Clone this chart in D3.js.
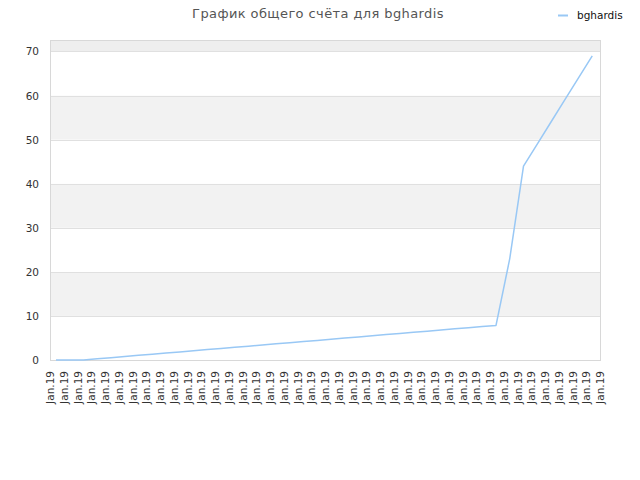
<!DOCTYPE html>
<html><head><meta charset="utf-8">
<script src="https://cdn.jsdelivr.net/npm/d3@7"></script>
<style>body{margin:0;background:#fff}svg{display:block}</style>
</head><body>
<script>
const title = "График общего счёта для bghardis";
const seriesName = "bghardis";
const xLabels = ["Jan.19","Jan.19","Jan.19","Jan.19","Jan.19","Jan.19","Jan.19","Jan.19","Jan.19","Jan.19",
  "Jan.19","Jan.19","Jan.19","Jan.19","Jan.19","Jan.19","Jan.19","Jan.19","Jan.19","Jan.19",
  "Jan.19","Jan.19","Jan.19","Jan.19","Jan.19","Jan.19","Jan.19","Jan.19","Jan.19","Jan.19",
  "Jan.19","Jan.19","Jan.19","Jan.19","Jan.19","Jan.19","Jan.19","Jan.19","Jan.19","Jan.19","Jan.19"];
const scores = [0,0,0,0.26,0.52,0.79,1.05,1.31,1.57,1.83,2.09,2.36,2.62,2.88,3.14,3.4,3.66,3.93,4.19,4.45,
  4.71,4.97,5.23,5.5,5.76,6.02,6.28,6.54,6.8,7.07,7.33,7.59,7.85,23,44,49,54,59,64,69];
const yTicks = [0,10,20,30,40,50,60,70];

const W = 640, H = 480;
const L = 50.5, R = 600.5, T = 40.5, B = 360.5;
const svg = d3.select("body").append("svg").attr("width", W).attr("height", H);
const x = d3.scaleLinear().domain([0, xLabels.length - 1]).range([56, 606]);
const y = d3.scaleLinear().domain([0, 72.6]).range([360, 40]);

// bands
const bands = [];
for (let i = 0; i < yTicks.length; i++) {
  const lo = yTicks[i], hi = i + 1 < yTicks.length ? yTicks[i + 1] : y.domain()[1];
  bands.push({lo, hi, i});
}
svg.append("g").selectAll("rect").data(bands).join("rect")
  .attr("x", L).attr("width", R - L)
  .attr("y", d => y(d.hi)).attr("height", d => y(d.lo) - y(d.hi))
  .attr("fill", d => d.i === yTicks.length - 1 ? "#eeeeee" : (d.i % 2 === 1 ? "#f2f2f2" : "#ffffff"));

// grid lines
svg.append("g").selectAll("line").data(yTicks.slice(1)).join("line")
  .attr("x1", L).attr("x2", R)
  .attr("y1", d => Math.round(y(d)) + 0.5).attr("y2", d => Math.round(y(d)) + 0.5)
  .attr("stroke", "#e0e0e0").attr("stroke-width", 1);

// frame
svg.append("rect").attr("x", L).attr("y", T).attr("width", R - L).attr("height", B - T)
  .attr("fill", "none").attr("stroke", "#d8d8d8").attr("stroke-width", 1);

// y labels
svg.append("g").selectAll("text").data(yTicks).join("text")
  .attr("x", 39).attr("y", d => y(d) + 4)
  .attr("text-anchor", "end")
  .attr("font-family", "DejaVu Sans").attr("font-size", 10.5).attr("fill", "#333")
  .text(d => d);

// x labels
svg.append("g").selectAll("text").data(xLabels).join("text")
  .attr("transform", (d, i) => `translate(${x(i) - 2},371) rotate(-90)`)
  .attr("text-anchor", "end")
  .attr("font-family", "DejaVu Sans").attr("font-size", 10.5).attr("fill", "#333")
  .text(d => d);

// line
const line = d3.line().x((d, i) => x(i)).y(d => y(d));
svg.append("path").datum(scores).attr("d", line)
  .attr("fill", "none").attr("stroke", "#99c8f5").attr("stroke-width", 1.5)
  .attr("stroke-linejoin", "round");

// title
svg.append("text").attr("x", 318).attr("y", 17.5).attr("text-anchor", "middle")
  .attr("font-family", "DejaVu Sans").attr("font-size", 13).attr("letter-spacing", 0.4).attr("fill", "#555")
  .text(title);

// legend
svg.append("line").attr("x1", 558).attr("x2", 568).attr("y1", 15.5).attr("y2", 15.5)
  .attr("stroke", "#99c8f5").attr("stroke-width", 2);
svg.append("text").attr("x", 577).attr("y", 18.5)
  .attr("font-family", "DejaVu Sans").attr("font-size", 10.5).attr("fill", "#111")
  .text(seriesName);
</script>
</body></html>
